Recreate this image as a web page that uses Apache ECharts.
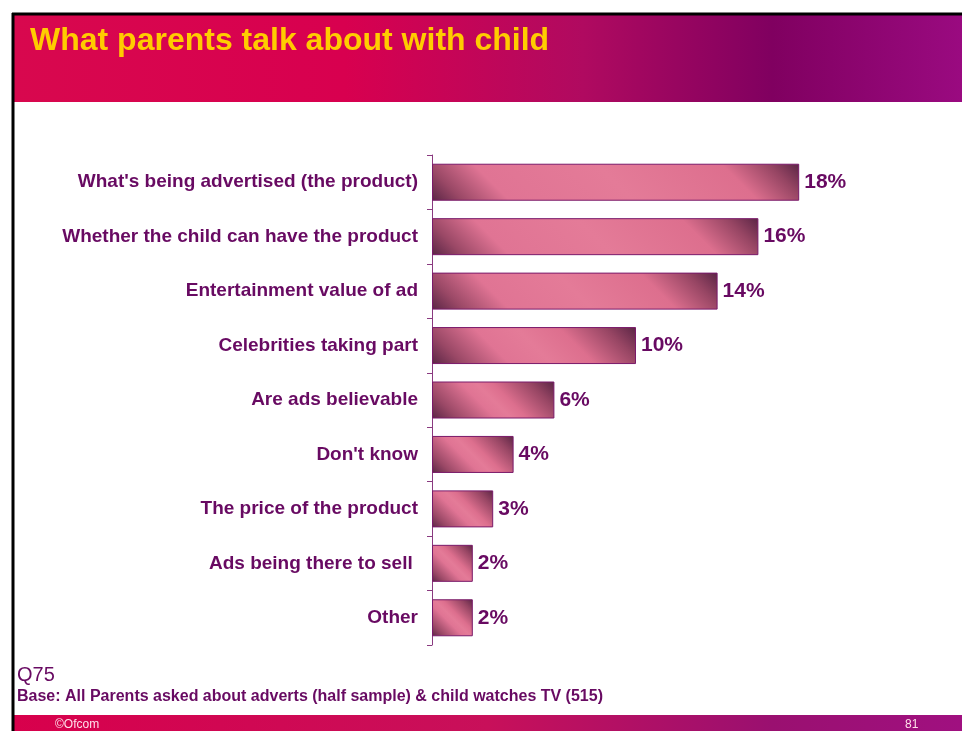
<!DOCTYPE html>
<html><head><meta charset="utf-8">
<script src="https://cdn.jsdelivr.net/npm/echarts@6/dist/echarts.min.js"></script>
<style>html,body{margin:0;padding:0;background:#fff}#c{width:962px;height:731px}</style>
</head><body><div id="c"></div>
<script>
const categories = ["What's being advertised (the product)", "Whether the child can have the product", "Entertainment value of ad", "Celebrities taking part", "Are ads believable", "Don't know", "The price of the product", "Ads being there to sell ", "Other"];
const values = [18, 16, 14, 10, 6, 4, 3, 2, 2];
const titleText = "What parents talk about with child";
const question = "Q75";
const baseText = "Base: All Parents asked about adverts (half sample) & child watches TV (515)";

const chart = echarts.init(document.getElementById('c'));
const purple = '#680a62';
const FONT = '"Liberation Sans", Arial, sans-serif';
const xMax = 25, gridLeft = 432, gridRight = 20, barH = 37;
const gridW = 962 - gridLeft - gridRight;

function barGradient(v) {
  const w = Math.max(v / xMax * gridW, 1), h = barH;
  const x2 = (w + h) / (2 * w), y2 = (h - w) / (2 * h);
  const L = (w + h) / Math.SQRT2;
  const d = Math.min(0.4, 55 / L);
  return new echarts.graphic.LinearGradient(0, 1, x2, y2, [
    {offset: 0, color: '#5a2545'},
    {offset: d * 0.4, color: '#9a4866'},
    {offset: d, color: '#e07494'},
    {offset: 0.5, color: '#e47b98'},
    {offset: 1 - d, color: '#dd6f8e'},
    {offset: 1 - d * 0.4, color: '#964563'},
    {offset: 1, color: '#5a2545'}
  ]);
}

chart.setOption({
  animation: false,
  graphic: [
    {type: 'rect', shape: {x: 13, y: 15, width: 949, height: 87}, style: {fill: new echarts.graphic.LinearGradient(0, 0, 1, 0, [
      {offset: 0, color: '#d8084e'}, {offset: 0.35, color: '#d8004f'}, {offset: 0.6, color: '#b00a60'}, {offset: 0.8, color: '#800060'}, {offset: 1, color: '#9a0a80'}])}},
    {type: 'rect', shape: {x: 13, y: 715, width: 949, height: 16}, style: {fill: new echarts.graphic.LinearGradient(0, 0, 1, 0, [
      {offset: 0, color: '#d8004c'}, {offset: 0.5, color: '#c8105a'}, {offset: 0.8, color: '#9a1070'}, {offset: 1, color: '#a01080'}])}},
    {type: 'line', shape: {x1: 12, y1: 14, x2: 962, y2: 14}, style: {stroke: '#000', lineWidth: 3}},
    {type: 'line', shape: {x1: 13, y1: 13, x2: 13, y2: 731}, style: {stroke: '#000', lineWidth: 3}},
    {type: 'text', left: 30, top: 25, style: {text: titleText, fill: '#ffcc00', font: 'bold 32px ' + FONT}},
    {type: 'text', left: 17, top: 665, style: {text: question, fill: purple, font: '20px ' + FONT}},
    {type: 'text', left: 17, top: 689, style: {text: baseText, fill: purple, font: 'bold 16px ' + FONT}},
    {type: 'text', left: 55, top: 719, style: {text: '©Ofcom', fill: '#ffe0ea', font: '12px ' + FONT}},
    {type: 'text', left: 905, top: 719, style: {text: '81', fill: '#ffe0ea', font: '12px ' + FONT}}
  ],
  grid: {left: gridLeft, right: gridRight, top: 155, bottom: 86, containLabel: false},
  xAxis: {type: 'value', min: 0, max: xMax, show: false},
  yAxis: {
    type: 'category', data: categories, inverse: true,
    axisLine: {show: true, lineStyle: {color: '#8a3a80', width: 1}},
    axisTick: {show: true, length: 5, lineStyle: {color: '#8a3a80'}},
    axisLabel: {margin: 14, color: purple, fontSize: 19, fontWeight: 'bold', fontFamily: FONT}
  },
  series: [{
    type: 'bar', barWidth: barH,
    data: values.map(v => ({value: v, itemStyle: {color: barGradient(v)}})),
    itemStyle: {borderColor: '#7a1a6a', borderWidth: 1},
    label: {show: true, position: 'right', distance: 5, formatter: '{c}%', color: purple, fontSize: 21, fontWeight: 'bold', fontFamily: FONT}
  }]
});
</script></body></html>
